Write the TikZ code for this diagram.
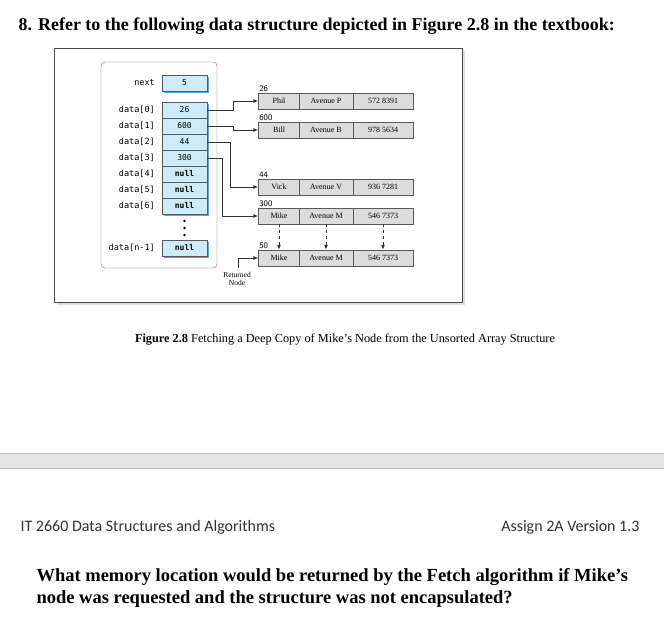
\documentclass[tikz,border=0pt]{standalone}
\usepackage{fontspec}
\setmainfont{Liberation Serif}
\newfontfamily\calib{Carlito}
\newfontfamily\mono{DejaVu Sans Mono}
\usetikzlibrary{arrows.meta}
\definecolor{cellblue}{HTML}{CDEBF8}
\definecolor{shadowblue}{HTML}{5BA6D6}
\definecolor{nodegray}{HTML}{DCDCDC}
\begin{document}
\begin{tikzpicture}[x=1pt,y=-1pt,
  cell/.style={draw=gray!70!black,fill=cellblue,minimum width=45pt,minimum height=16pt,inner sep=0pt,font=\mono\fontsize{8}{9}\selectfont},
  lab/.style={anchor=east,inner sep=0pt,font=\mono\fontsize{8.5}{9}\selectfont},
  fld/.style={draw=gray!70!black,fill=nodegray,minimum height=16pt,inner sep=0pt,font=\fontsize{8}{9}\selectfont},
  addr/.style={anchor=south west,inner sep=0.8pt,font=\sffamily\fontsize{8.5}{9}\selectfont},
  link/.style={draw=black!80,line width=0.9pt,-{Latex[length=5pt,width=4pt]}},
  dlink/.style={draw=black!80,line width=0.9pt,dashed,-{Latex[length=5pt,width=4pt]}}]
\useasboundingbox (0,0) rectangle (664,617);
\fill[white] (0,0) rectangle (664,617);
\node[anchor=west,font=\bfseries\fontsize{18}{21}\selectfont] (title) at (15,26) {8. Refer to the following data structure depicted in Figure 2.8 in the textbook:};
% frame
\fill[gray!25] (57,51) rectangle (465,305);
\draw[fill=white,draw=black!70,line width=0.8pt] (54,48) rectangle (462,302);
\draw[rounded corners=4pt,draw=black!60] (101,62) rectangle (217,268);
\foreach \n/\y/\t/\l in {nx/83/5/next,c0/110/26/data[0],c1/126/600/data[1],c2/142/44/data[2],c3/158/300/data[3]}{
  \fill[shadowblue] (164,\y-6) rectangle (209,\y+10);
  \node[cell] (\n) at (184.5,\y) {\t};
  \node[lab] (l\n) at (155,\y) {\l};
}
\foreach \n/\y/\l in {c4/174/data[4],c5/190/data[5],c6/206/data[6],cn/248/data[n-1]}{
  \fill[shadowblue] (164,\y-6) rectangle (209,\y+10);
  \node[cell,font=\mono\bfseries\fontsize{8}{9}\selectfont] (\n) at (184.5,\y) {null};
  \node[lab] (l\n) at (155,\y) {\l};
}
\foreach \y in {221,228,235} \fill (184.5,\y) circle (1.4pt);
% list nodes
\foreach \n/\y/\a/\b/\c/\ad in {phil/101/Phil/Avenue P/572 8391/26,bill/130/Bill/Avenue B/978 5634/600,vick/187/Vick/Avenue V/936 7281/44,mike/216/Mike/Avenue M/546 7373/300,mikeb/258/Mike/Avenue M/546 7373/50}{
  \node[fld,minimum width=41pt] (\n a) at (279,\y) {\a};
  \node[fld,minimum width=54pt] (\n b) at (326,\y) {\b};
  \node[fld,minimum width=60pt] (\n c) at (383,\y) {\c};
  \node[addr] (\n ad) at (\n a.north west) {\ad};
}
% links
\draw[link] (c0.east) -- (233,110) |- (phila.west);
\draw[link] (c1.east) -- (233,126) |- (billa.west);
\draw[link] (c2.east) -- (230,142) |- (vicka.west);
\draw[link] (c3.east) -- (222,158) |- (mikea.west);
\draw[dlink] (mikea.south) -- (mikeba.north);
\draw[dlink] (mikeb.south) -- (mikebb.north);
\draw[dlink] (mikec.south) -- (mikebc.north);
\node[align=center,font=\fontsize{7.5}{8.5}\selectfont,inner sep=0pt] (ret) at (237,279) {Returned\\Node};
\coordinate (rt) at (238,268);
\draw[link,line width=0.6pt] (rt) |- (mikeba.west);
% caption
\node[font=\fontsize{12.3}{14}\selectfont] (cap) at (345,340) {\textbf{Figure 2.8} Fetching a Deep Copy of Mike's Node from the Unsorted Array Structure};
% band
\fill[gray!20] (0,453) rectangle (664,468);
\draw[gray!50] (0,453) -- (664,453);
\draw[gray!50] (0,468) -- (664,468);
\node[anchor=west,font=\calib\fontsize{16}{18}\selectfont,text=black!80] (foot) at (17,527) {IT 2660 Data Structures and Algorithms};
\node[anchor=east,font=\calib\fontsize{16}{18}\selectfont,text=black!80] (ver) at (643,527) {Assign 2A Version 1.3};
\node[anchor=west,font=\bfseries\fontsize{18.5}{21}\selectfont] (q1) at (33,577) {What memory location would be returned by the Fetch algorithm if Mike's};
\node[anchor=west,font=\bfseries\fontsize{18.5}{21}\selectfont] (q2) at (33,599) {node was requested and the structure was not encapsulated?};
\end{tikzpicture}
\end{document}
